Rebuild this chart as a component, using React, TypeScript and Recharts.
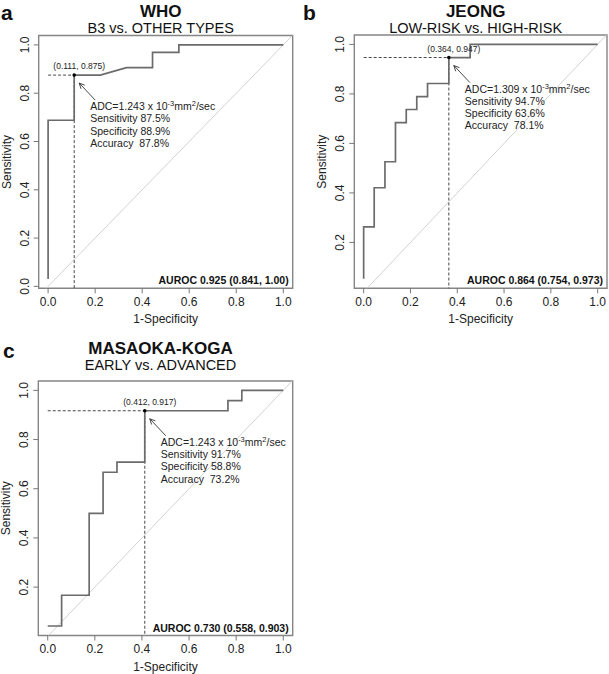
import React from "react";
import {
  ComposedChart,
  Line,
  XAxis,
  YAxis,
  ReferenceArea,
  ReferenceLine,
  ReferenceDot,
} from "recharts";

const FONT = '"Liberation Sans", Arial, Helvetica, sans-serif';

// a: WHO, B3 vs. other types
const whoFpr = [0, 0, 0.111, 0.111, 0.222, 0.333, 0.444, 0.444, 0.556, 0.556, 1];
const whoTpr = [0.031, 0.688, 0.688, 0.875, 0.875, 0.906, 0.906, 0.969, 0.969, 1, 1];
const whoCut: [number, number] = [0.111, 0.875];
const whoStats = ["Sensitivity 87.5%", "Specificity 88.9%", "Accuracy  87.8%"];

// b: Jeong, low-risk vs. high-risk
const jeongFpr = [
  0, 0, 0.045, 0.045, 0.091, 0.091, 0.136, 0.136, 0.182, 0.182, 0.227, 0.227, 0.273, 0.273, 0.364,
  0.364, 0.455, 0.455, 1,
];
const jeongTpr = [
  0.053, 0.263, 0.263, 0.421, 0.421, 0.526, 0.526, 0.684, 0.684, 0.737, 0.737, 0.789, 0.789, 0.842,
  0.842, 0.947, 0.947, 1, 1,
];
const jeongCut: [number, number] = [0.364, 0.947];
const jeongStats = ["Sensitivity 94.7%", "Specificity 63.6%", "Accuracy  78.1%"];

// c: Masaoka-Koga, early vs. advanced
const mkFpr = [
  0, 0.059, 0.059, 0.176, 0.176, 0.235, 0.235, 0.294, 0.294, 0.412, 0.412, 0.765, 0.765, 0.824,
  0.824, 1,
];
const mkTpr = [
  0.042, 0.042, 0.167, 0.167, 0.5, 0.5, 0.667, 0.667, 0.708, 0.708, 0.917, 0.917, 0.958, 0.958, 1,
  1,
];
const mkCut: [number, number] = [0.412, 0.917];
const mkStats = ["Sensitivity 91.7%", "Specificity 58.8%", "Accuracy  73.2%"];

const xTicks = [0, 0.2, 0.4, 0.6, 0.8, 1];
const yTicksFull = [0, 0.2, 0.4, 0.6, 0.8, 1];
const yTicksShort = [0.2, 0.4, 0.6, 0.8, 1];

type Box = { l: number; t: number; r: number; b: number };

type PanelProps = {
  left: number;
  top: number;
  width: number;
  height: number;
  box: Box;
  yDomain: [number, number];
  yTicks: number[];
  fpr: number[];
  tpr: number[];
  cut: [number, number];
  adc: string;
  stats: string[];
  auroc: string;
  letter: string;
  title: string;
  subtitle: string;
  titleY: number;
  subY: number;
  letterX: number;
  letterY: number;
};

function YTick(props: any) {
  const { x, y, payload } = props;
  const bx = x - 3;
  return (
    <text
      x={bx}
      y={y}
      transform={`rotate(-90, ${bx}, ${y})`}
      textAnchor="middle"
      fontSize={12}
      fill="#222"
      fontFamily={FONT}
    >
      {Number(payload.value).toFixed(1)}
    </text>
  );
}

function CutoffMark(props: any) {
  const { cx, cy, cut, adc, stats } = props;
  const tip = [cx + 5, cy + 8];
  const tail = [cx + 21, cy + 25];
  const ang = Math.atan2(tail[1] - tip[1], tail[0] - tip[0]);
  const h1 = [tip[0] + 6 * Math.cos(ang + 0.45), tip[1] + 6 * Math.sin(ang + 0.45)];
  const h2 = [tip[0] + 6 * Math.cos(ang - 0.45), tip[1] + 6 * Math.sin(ang - 0.45)];
  const tx = cx + 16;
  const ty = cy + 35;
  return (
    <g fontFamily={FONT}>
      <circle cx={cx} cy={cy} r={1.8} fill="#000" />
      <text x={cx + 5} y={cy - 6} fontSize={8.5} textAnchor="middle" fill="#222">
        ({cut[0].toFixed(3)}, {cut[1].toFixed(3)})
      </text>
      <line x1={tip[0]} y1={tip[1]} x2={tail[0]} y2={tail[1]} stroke="#333" strokeWidth={0.9} />
      <polyline
        points={`${h1[0]},${h1[1]} ${tip[0]},${tip[1]} ${h2[0]},${h2[1]}`}
        fill="none"
        stroke="#333"
        strokeWidth={0.9}
      />
      <text x={tx} y={ty} fontSize={10.5} fill="#222">
        ADC={adc} x 10
        <tspan baselineShift="super" fontSize={7.5}>
          -3
        </tspan>
        mm
        <tspan baselineShift="super" fontSize={7.5}>
          2
        </tspan>
        /sec
      </text>
      {stats.map((s: string, i: number) => (
        <text
          key={s}
          x={tx}
          y={ty + 12.3 * (i + 1)}
          fontSize={10.5}
          fill="#222"
          style={{ whiteSpace: "pre" }}
        >
          {s}
        </text>
      ))}
    </g>
  );
}

function RocPanel(p: PanelProps) {
  const rows = p.fpr.map((x, i) => ({ fpr: x, tpr: p.tpr[i] }));
  const [yMin, yMax] = p.yDomain;
  const xAxisH = p.height - p.box.b;
  const midX = (p.box.l + p.box.r) / 2 - 5;
  return (
    <div
      style={{
        position: "absolute",
        left: p.left,
        top: p.top,
        width: p.width,
        height: p.height,
        fontFamily: FONT,
        color: "#111",
      }}
    >
      <div
        style={{
          position: "absolute",
          left: p.letterX,
          top: p.letterY,
          fontSize: 21,
          fontWeight: "bold",
          lineHeight: "normal",
        }}
      >
        {p.letter}
      </div>
      <div
        style={{
          position: "absolute",
          left: midX,
          top: p.titleY,
          transform: "translate(-50%, -50%)",
          fontSize: 17,
          fontWeight: "bold",
          lineHeight: 1,
          whiteSpace: "nowrap",
        }}
      >
        {p.title}
      </div>
      <div
        style={{
          position: "absolute",
          left: midX,
          top: p.subY,
          transform: "translate(-50%, -50%)",
          fontSize: 14.5,
          lineHeight: 1,
          whiteSpace: "nowrap",
        }}
      >
        {p.subtitle}
      </div>
      <ComposedChart
        width={p.width}
        height={p.height}
        data={rows}
        margin={{ top: p.box.t, right: p.width - p.box.r, bottom: 0, left: 0 }}
      >
        <XAxis
          dataKey="fpr"
          type="number"
          domain={[-0.04, 1.04]}
          allowDataOverflow
          ticks={xTicks}
          tickFormatter={(v: number) => v.toFixed(1)}
          height={xAxisH}
          axisLine={false}
          tickLine={{ stroke: "#777" }}
          tickSize={5}
          tickMargin={4}
          tick={{ fontSize: 12, fill: "#222", fontFamily: FONT }}
          label={{
            content: (lp: any) => {
              const vb = lp.viewBox;
              return (
                <text
                  x={vb.x + vb.width / 2}
                  y={vb.y + 35}
                  textAnchor="middle"
                  fontSize={12}
                  fill="#222"
                  fontFamily={FONT}
                >
                  1-Specificity
                </text>
              );
            },
          }}
        />
        <YAxis
          type="number"
          domain={p.yDomain}
          allowDataOverflow
          ticks={p.yTicks}
          width={p.box.l}
          axisLine={false}
          tickLine={{ stroke: "#777" }}
          tickSize={5}
          tickMargin={2}
          tick={<YTick />}
          label={{
            content: (lp: any) => {
              const vb = lp.viewBox;
              const x = vb.x + vb.width - 28;
              const y = vb.y + vb.height / 2;
              return (
                <text
                  x={x}
                  y={y}
                  transform={`rotate(-90, ${x}, ${y})`}
                  textAnchor="middle"
                  fontSize={12}
                  fill="#222"
                  fontFamily={FONT}
                >
                  Sensitivity
                </text>
              );
            },
          }}
        />
        <ReferenceArea
          x1={-0.04}
          x2={1.04}
          y1={yMin}
          y2={yMax}
          fill="none"
          stroke="#858585"
          strokeWidth={1.4}
          label={{
            value: p.auroc,
            position: "insideBottomRight",
            offset: 4,
            fontSize: 10.5,
            fontWeight: "bold",
            fill: "#111",
            fontFamily: FONT,
          }}
        />
        <ReferenceLine
          segment={[
            { x: -0.1, y: -0.1 },
            { x: 1.1, y: 1.1 },
          ]}
          ifOverflow="hidden"
          stroke="#d2d2d2"
          strokeWidth={1}
        />
        <ReferenceLine
          segment={[
            { x: 0, y: p.cut[1] },
            { x: p.cut[0], y: p.cut[1] },
          ]}
          stroke="#333"
          strokeDasharray="3 2"
          strokeWidth={0.9}
        />
        <ReferenceLine
          segment={[
            { x: p.cut[0], y: p.cut[1] },
            { x: p.cut[0], y: yMin },
          ]}
          stroke="#333"
          strokeDasharray="3 2"
          strokeWidth={0.9}
        />
        <Line
          type="linear"
          dataKey="tpr"
          stroke="#6b6b6b"
          strokeWidth={1.7}
          dot={false}
          activeDot={false}
          isAnimationActive={false}
        />
        <ReferenceDot
          x={p.cut[0]}
          y={p.cut[1]}
          r={2}
          shape={(sp: any) => (
            <CutoffMark {...sp} cut={p.cut} adc={p.adc} stats={p.stats} />
          )}
        />
      </ComposedChart>
    </div>
  );
}

export default function App() {
  return (
    <div
      style={{
        position: "absolute",
        left: 0,
        top: 0,
        width: 609,
        height: 674,
        background: "#fff",
        overflow: "hidden",
      }}
    >
      <RocPanel
        left={0}
        top={0}
        width={300}
        height={330}
        box={{ l: 38.7, t: 35.5, r: 292.7, b: 288.3 }}
        yDomain={[-0.008, 1.039]}
        yTicks={yTicksFull}
        fpr={whoFpr}
        tpr={whoTpr}
        cut={whoCut}
        adc="1.243"
        stats={whoStats}
        auroc="AUROC 0.925 (0.841, 1.00)"
        letter="a"
        title="WHO"
        subtitle="B3 vs. OTHER TYPES"
        titleY={11}
        subY={28}
        letterX={1}
        letterY={0.5}
      />
      <RocPanel
        left={300}
        top={0}
        width={309}
        height={330}
        box={{ l: 54.3, t: 35, r: 307, b: 288.3 }}
        yDomain={[0.0147, 1.038]}
        yTicks={yTicksShort}
        fpr={jeongFpr}
        tpr={jeongTpr}
        cut={jeongCut}
        adc="1.309"
        stats={jeongStats}
        auroc="AUROC 0.864 (0.754, 0.973)"
        letter="b"
        title="JEONG"
        subtitle="LOW-RISK vs. HIGH-RISK"
        titleY={11}
        subY={28}
        letterX={3}
        letterY={0.5}
      />
      <RocPanel
        left={0}
        top={330}
        width={300}
        height={344}
        box={{ l: 38.3, t: 51, r: 292.7, b: 305.5 }}
        yDomain={[0.0033, 1.038]}
        yTicks={yTicksShort}
        fpr={mkFpr}
        tpr={mkTpr}
        cut={mkCut}
        adc="1.243"
        stats={mkStats}
        auroc="AUROC 0.730 (0.558, 0.903)"
        letter="c"
        title="MASAOKA-KOGA"
        subtitle="EARLY vs. ADVANCED"
        titleY={18}
        subY={35}
        letterX={3}
        letterY={9}
      />
    </div>
  );
}
